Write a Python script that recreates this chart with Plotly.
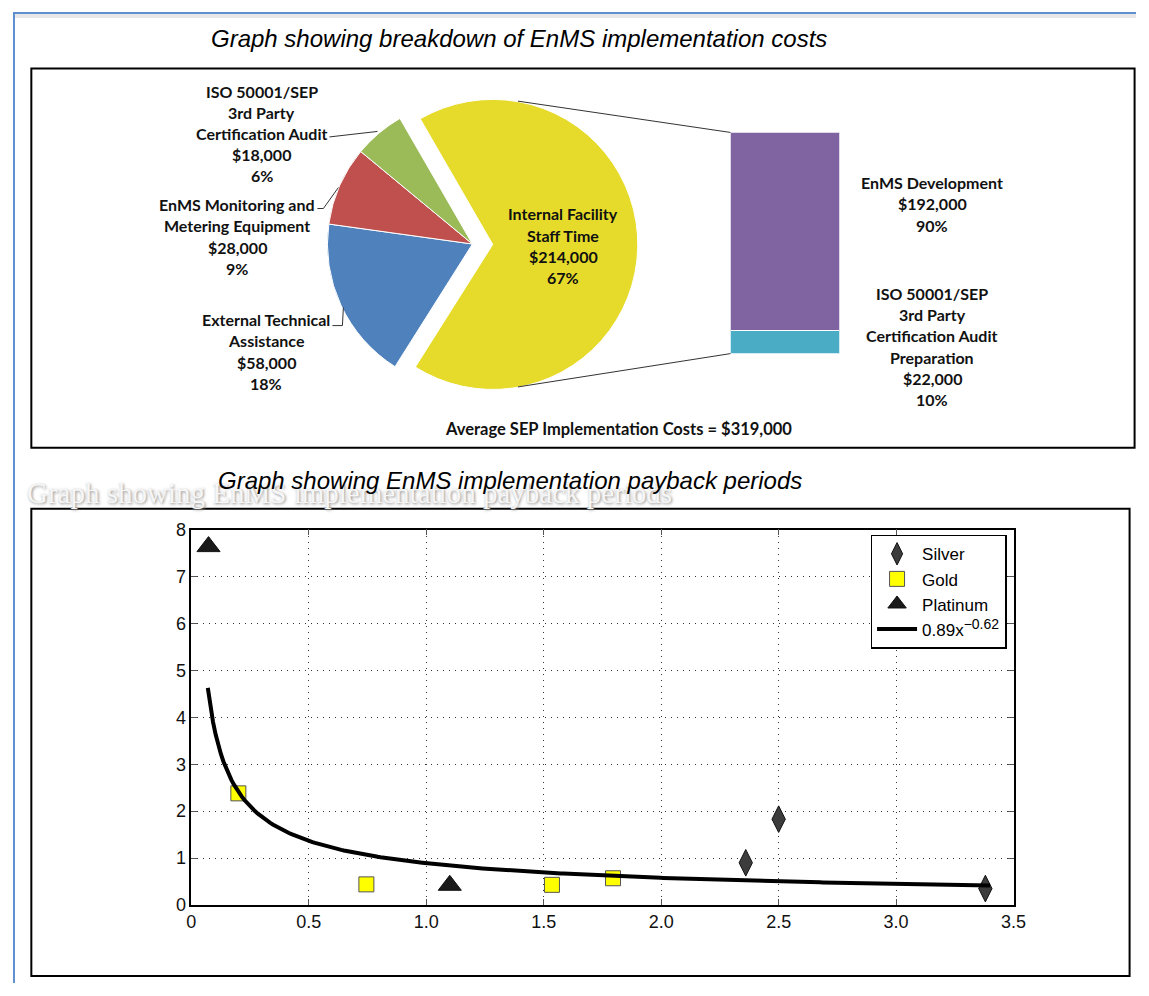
import numpy as np
import plotly.graph_objects as go

# ---------------- data ----------------
cost_labels = [
    ["Internal Facility", "Staff Time"],
    ["External Technical", "Assistance"],
    ["EnMS Monitoring and", "Metering Equipment"],
    ["ISO 50001/SEP", "3rd Party", "Certification Audit"],
]
cost_values = [214000, 58000, 28000, 18000]
cost_colors = ["#E6DB2A", "#4F81BD", "#C0504D", "#9BBB59"]

staff_labels = [
    ["ISO 50001/SEP", "3rd Party", "Certification Audit", "Preparation"],
    ["EnMS Development"],
]
staff_values = [22000, 192000]
staff_colors = ["#4BACC6", "#8064A2"]
average_total = 319000

silver_x = [2.36, 2.50, 3.38]
silver_y = [0.90, 1.83, 0.35]
gold_x = [0.20, 0.745, 1.535, 1.795]
gold_y = [2.38, 0.44, 0.43, 0.57]
platinum_x = [0.073, 1.10]
platinum_y = [7.64, 0.42]
fit_coef = 0.89
fit_exp = -0.62
fit_x_range = [0.07, 3.40]

x_ticks = [0, 0.5, 1.0, 1.5, 2.0, 2.5, 3.0, 3.5]
x_tick_text = ["0", "0.5", "1.0", "1.5", "2.0", "2.5", "3.0", "3.5"]
y_ticks = [0, 1, 2, 3, 4, 5, 6, 7, 8]

# ---------------- geometry helpers ----------------
W, H = 1141, 985
OFF = 8
AX, SX, AY, SY = 4.8, 0.984, 9.8, 0.979


def fx(x):
    return ((x - AX) / SX - OFF) / W


def fy(y):
    return 1 - ((y - AY) / SY - OFF) / H


LABEL_FONT = dict(family="Lato", size=16, color="#111111", weight="bold")

annotations = []
shapes = []


def add_lines(lines, xc, y0, spacing=21.3, font=LABEL_FONT):
    for i, t in enumerate(lines):
        annotations.append(dict(
            x=fx(xc), y=fy(y0 + i * spacing), xref="paper", yref="paper",
            text=t, showarrow=False, xanchor="center", yanchor="middle", font=font))


def seg(points, color="#333333", width=1):
    path = "M " + " L ".join(f"{fx(a)},{fy(b)}" for a, b in points)
    shapes.append(dict(type="path", path=path, xref="paper", yref="paper",
                       line=dict(color=color, width=width)))


fig = go.Figure()

# ---------------- pie ----------------
pie_cx, pie_cy, pie_r, pull = 472, 243.5, 145, 0.14
half = pie_r * (1 + pull)
total = sum(cost_values)
fig.add_trace(go.Pie(
    values=cost_values,
    labels=[" ".join(l) for l in cost_labels],
    marker=dict(colors=cost_colors, line=dict(color="white", width=1)),
    pull=[pull, 0, 0, 0], rotation=-30, direction="clockwise", sort=False,
    textinfo="none", showlegend=False, hoverinfo="label+value",
    domain=dict(x=[fx(pie_cx - half), fx(pie_cx + half)],
                y=[fy(pie_cy + half), fy(pie_cy - half)]),
))

# ---------------- bar (breakdown of staff time) ----------------
bar_left, bar_right, bar_top, bar_bottom = 730, 839, 132, 353
for lab, v, c in zip(staff_labels, staff_values, staff_colors):
    fig.add_trace(go.Bar(
        x=[0], y=[v], width=1, marker=dict(color=c, line=dict(color="white", width=1)),
        name=" ".join(lab), showlegend=False, xaxis="x", yaxis="y", hoverinfo="name+y"))

# ---------------- scatter ----------------
fig.add_trace(go.Scatter(
    x=silver_x, y=silver_y, mode="markers", name="Silver", xaxis="x2", yaxis="y2",
    marker=dict(symbol="diamond-tall", size=19, color="#3C3C3C", line=dict(color="#111111", width=1)),
    cliponaxis=False))
fig.add_trace(go.Scatter(
    x=gold_x, y=gold_y, mode="markers", name="Gold", xaxis="x2", yaxis="y2",
    marker=dict(symbol="square", size=15, color="#FFFF00", line=dict(color="#555555", width=1)),
    cliponaxis=False))
fig.add_trace(go.Scatter(
    x=platinum_x, y=platinum_y, mode="markers", name="Platinum", xaxis="x2", yaxis="y2",
    marker=dict(symbol="triangle-up", size=20, color="#1A1A1A", line=dict(color="#111111", width=1)),
    cliponaxis=False))
fit_x = np.linspace(fit_x_range[0], fit_x_range[1], 300)
fig.add_trace(go.Scatter(
    x=fit_x, y=fit_coef * fit_x ** fit_exp, mode="lines",
    name=f"{fit_coef}x<sup><span style='font-size:14px'>\u2212{abs(fit_exp)}</span></sup>",
    xaxis="x2", yaxis="y2", line=dict(color="black", width=4)))

# ---------------- labels ----------------
pcts = [round(v / total * 100) for v in cost_values]
add_lines(cost_labels[0] + [f"${cost_values[0]:,}", f"{pcts[0]}%"], 563, 213.3, 21.3)
add_lines(cost_labels[1] + [f"${cost_values[1]:,}", f"{pcts[1]}%"], 266, 319, 21.3)
add_lines(cost_labels[2] + [f"${cost_values[2]:,}", f"{pcts[2]}%"], 237, 204, 21.3)
add_lines(cost_labels[3] + [f"${cost_values[3]:,}", f"{pcts[3]}%"], 261.5, 90.7, 21.1)

stot = sum(staff_values)
spct = [round(v / stot * 100) for v in staff_values]
add_lines(staff_labels[1] + [f"${staff_values[1]:,}", f"{spct[1]}%"], 931.5, 182, 21.4)
add_lines(staff_labels[0] + [f"${staff_values[0]:,}", f"{spct[0]}%"], 931.5, 292.7, 21.3)
add_lines([f"Average SEP Implementation Costs = ${average_total:,}"], 618.5, 428,
          font=dict(family="Lato", size=16.5, color="#111111", weight="bold"))

# leader lines
seg([(329, 136.5), (377, 131)])
seg([(317, 208), (323, 208), (338, 187)])
seg([(332, 325), (342, 325), (343, 307)])

# connector lines pie -> bar
pcx = pie_cx + pie_r * pull
for ang, by in [(10, bar_top), (170, bar_bottom)]:
    a = np.radians(ang)
    seg([(pcx + pie_r * np.sin(a), pie_cy - pie_r * np.cos(a)), (bar_left, by)], color="#333333", width=1)

# titles
annotations.append(dict(
    x=fx(25), y=fy(492), xref="paper", yref="paper", xanchor="left", yanchor="middle",
    text="Graph showing EnMS implementation payback periods", showarrow=False,
    font=dict(family="Liberation Serif", size=29, color="#F6F6F6", shadow="1px 1px 3px #8a8a8a")))
annotations.append(dict(
    x=fx(519), y=fy(38), xref="paper", yref="paper", xanchor="center", yanchor="middle",
    text="<i>Graph showing breakdown of EnMS implementation costs</i>", showarrow=False,
    font=dict(family="Liberation Sans", size=24, color="black")))
annotations.append(dict(
    x=fx(509.5), y=fy(480), xref="paper", yref="paper", xanchor="center", yanchor="middle",
    text="<i>Graph showing EnMS implementation payback periods</i>", showarrow=False,
    font=dict(family="Liberation Sans", size=24, color="black")))

# frames
shapes.append(dict(type="rect", xref="paper", yref="paper", x0=fx(31), x1=fx(1134), y0=fy(447), y1=fy(68),
                   line=dict(color="black", width=2)))
shapes.append(dict(type="rect", xref="paper", yref="paper", x0=fx(31), x1=fx(1129), y0=fy(975), y1=fy(508),
                   line=dict(color="black", width=2)))
# page frame (blue rule with soft grey shadow), kept inside the drawable area
top_rule = 1 + 5 / H
shapes.append(dict(type="line", xref="paper", yref="paper", x0=0, x1=1, y0=1 + 2 / H, y1=1 + 2 / H,
                   line=dict(color="#E8E8E8", width=4)))
shapes.append(dict(type="line", xref="paper", yref="paper", x0=0, x1=1, y0=top_rule, y1=top_rule,
                   line=dict(color="#5F8FD0", width=2)))
shapes.append(dict(type="line", xref="paper", yref="paper", x0=1 / W, x1=1 / W, y0=0, y1=top_rule,
                   line=dict(color="#5F8FD0", width=2)))

axis_font = dict(family="Liberation Sans", size=18, color="#111111")
fig.update_layout(
    width=W, height=H, margin=dict(l=0, r=0, t=0, b=0),
    paper_bgcolor="white", plot_bgcolor="white",
    barmode="stack",
    xaxis=dict(domain=[fx(bar_left), fx(bar_right)], range=[-0.5, 0.5], visible=False, anchor="y", fixedrange=True),
    yaxis=dict(domain=[fy(bar_bottom), fy(bar_top)], range=[0, stot], visible=False, anchor="x", fixedrange=True),
    xaxis2=dict(domain=[fx(191), fx(1013)], range=[0, 3.5], anchor="y2",
                tickvals=x_ticks, ticktext=x_tick_text, tickfont=axis_font,
                showline=True, linecolor="black", linewidth=1.5, mirror="ticks",
                ticks="inside", ticklen=6, tickcolor="#555555",
                showgrid=True, gridcolor="#333333", gridwidth=1, griddash="1px,5px", zeroline=False),
    yaxis2=dict(domain=[fy(904), fy(529)], range=[0, 8], anchor="x2",
                tickvals=y_ticks, tickfont=axis_font,
                showline=True, linecolor="black", linewidth=1.5, mirror="ticks",
                ticks="inside", ticklen=6, tickcolor="#555555",
                showgrid=True, gridcolor="#333333", gridwidth=1, griddash="1px,5px", zeroline=False),
    legend=dict(x=fx(1006), y=fy(534), xanchor="right", yanchor="top", traceorder="normal",
                bgcolor="white", bordercolor="black", borderwidth=1.5,
                font=dict(family="Liberation Sans", size=17, color="black"),
                tracegroupgap=0, itemwidth=40),
    annotations=annotations, shapes=shapes,
)

fig.write_html("out.html")
